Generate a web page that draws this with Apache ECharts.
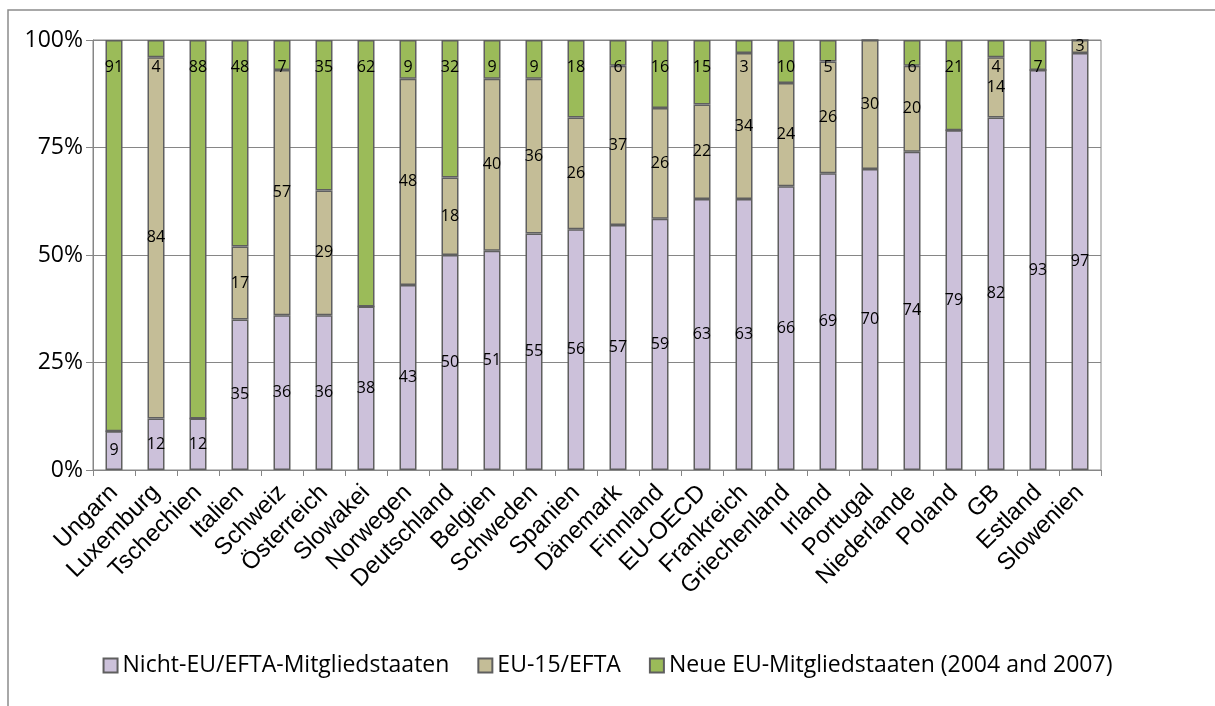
<!DOCTYPE html>
<html>
<head>
<meta charset="utf-8">
<script src="https://cdn.jsdelivr.net/npm/echarts@6/dist/echarts.min.js"></script>
<style>
  html, body { margin: 0; padding: 0; background: #ffffff; }
  #chart { width: 1215px; height: 706px; }
</style>
</head>
<body>
<div id="chart"></div>
<script>
// Herkunft der Zuwanderer nach Zielland, Anteile in %
const countries = ['Ungarn', 'Luxemburg', 'Tschechien', 'Italien', 'Schweiz', 'Österreich', 'Slowakei',
  'Norwegen', 'Deutschland', 'Belgien', 'Schweden', 'Spanien', 'Dänemark', 'Finnland', 'EU-OECD',
  'Frankreich', 'Griechenland', 'Irland', 'Portugal', 'Niederlande', 'Poland', 'GB', 'Estland', 'Slowenien'];

const nichtEU = [9, 12, 12, 35, 36, 36, 38, 43, 50, 51, 55, 56, 57, 59, 63, 63, 66, 69, 70, 74, 79, 82, 93, 97];
const eu15    = [0, 84, 0, 17, 57, 29, 0, 48, 18, 40, 36, 26, 37, 26, 22, 34, 24, 26, 30, 20, 0, 14, 0, 3];
const neueEU  = [91, 4, 88, 48, 7, 35, 62, 9, 32, 9, 9, 18, 6, 16, 15, 3, 10, 5, 0, 6, 21, 4, 7, 0];

const yTicks = ['0%', '25%', '50%', '75%', '100%'];

const seriesNames = ['Nicht-EU/EFTA-Mitgliedstaaten', 'EU-15/EFTA', 'Neue EU-Mitgliedstaaten (2004 and 2007)'];
const colors = ['#CCC1DA', '#C4BD97', '#9BBB59'];

// 100%-Stapel: jede Säule auf die Summe ihrer Anteile normieren
const rawSets = [nichtEU, eu15, neueEU];
const totals = countries.map((_, i) => nichtEU[i] + eu15[i] + neueEU[i]);
const shares = rawSets.map(arr => arr.map((v, i) => v / totals[i] * 100));

const labelFont = { fontFamily: 'Open Sans', fontSize: 16, color: '#000' };

const series = rawSets.map((raw, s) => ({
  name: seriesNames[s],
  type: 'bar',
  stack: 'anteil',
  barWidth: 17,
  data: shares[s],
  itemStyle: { color: colors[s], borderColor: '#5f5f5f', borderWidth: 1.5 },
  label: Object.assign({
    show: true,
    position: s === 2 ? 'insideTop' : 'inside',
    offset: s === 2 ? [0, 14] : [0, 0],
    formatter: p => raw[p.dataIndex] === 0 ? '' : String(raw[p.dataIndex])
  }, labelFont),
  emphasis: { disabled: true }
}));

const chart = echarts.init(document.getElementById('chart'), null, { renderer: 'canvas' });
chart.setOption({
  animation: false,
  backgroundColor: '#ffffff',
  graphic: [{
    type: 'rect',
    shape: { x: 8, y: 10, width: 1230, height: 720 },
    style: { fill: 'none', stroke: '#8c8c8c', lineWidth: 1.5 },
    silent: true,
    z: -1
  }],
  grid: {
    left: 93, right: 114, top: 40, bottom: 236,
    show: true, borderColor: '#868686', borderWidth: 1
  },
  legend: {
    bottom: 24,
    left: 'center',
    itemWidth: 14,
    itemHeight: 14,
    itemGap: 28,
    icon: 'rect',
    textStyle: { fontFamily: 'Open Sans', fontSize: 23, color: '#000' },
    data: seriesNames
  },
  xAxis: {
    type: 'category',
    data: countries,
    boundaryGap: true,
    axisLine: { lineStyle: { color: '#868686', width: 1 } },
    axisTick: { show: true, length: 6, lineStyle: { color: '#868686' } },
    axisLabel: {
      rotate: 45, interval: 0, margin: 19,
      fontFamily: 'Liberation Sans', fontSize: 24, color: '#000'
    }
  },
  yAxis: {
    type: 'value',
    min: 0, max: 100, interval: 25,
    axisLine: { show: true, lineStyle: { color: '#868686', width: 1 } },
    axisTick: { show: true, length: 7, lineStyle: { color: '#868686' } },
    splitLine: { lineStyle: { color: '#868686', width: 1 } },
    axisLabel: {
      margin: 10,
      fontFamily: 'Open Sans', fontSize: 23, color: '#000',
      formatter: v => yTicks[Math.round(v / 25)]
    }
  },
  series: series
});
</script>
</body>
</html>
